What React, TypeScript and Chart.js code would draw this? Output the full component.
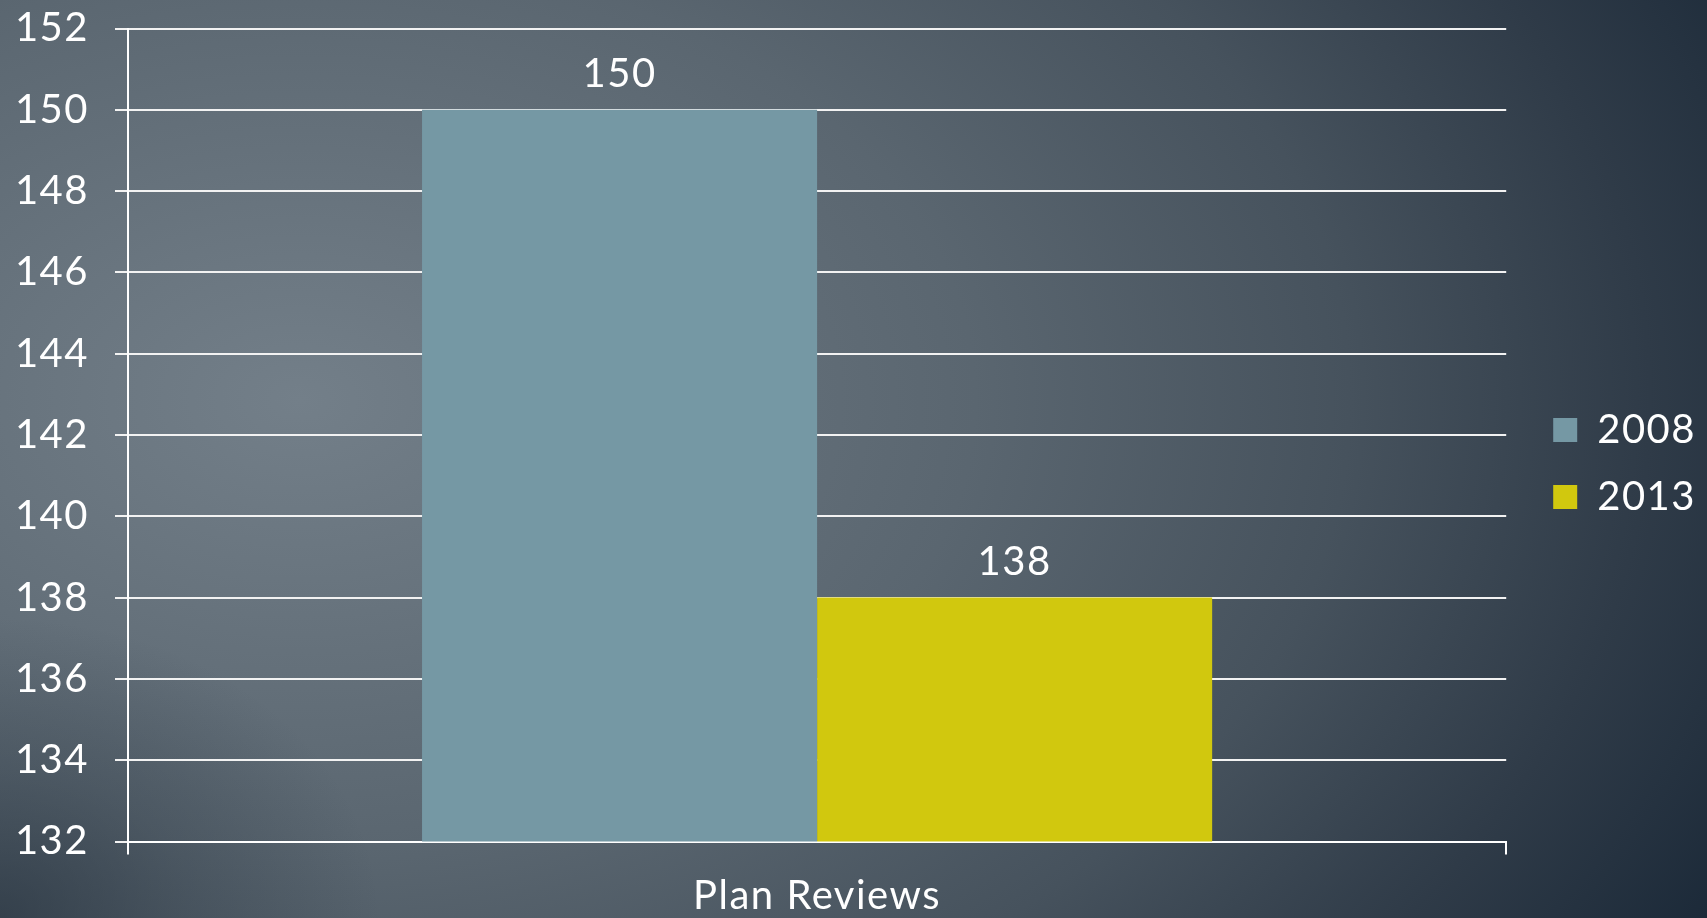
import React, { useEffect, useRef } from "react";
import { Chart, registerables } from "chart.js";

Chart.register(...registerables);

const categories = ["Plan Reviews"];
const seriesLabels = ["2008", "2013"];
const values2008 = [150];
const values2013 = [138];
const seriesColors = ["#7598a4", "#d1c80e"];
const yMin = 132;
const yMax = 152;
const yStep = 2;

const FONT = "Lato, 'Open Sans', sans-serif";
const SPACING = "1.5px";

const spacingPlugin = {
  id: "spacing",
  beforeUpdate(chart: any) {
    chart.ctx.letterSpacing = SPACING;
  },
  beforeDraw(chart: any) {
    chart.ctx.letterSpacing = SPACING;
  },
};

const valueLabels = {
  id: "valueLabels",
  afterDatasetsDraw(chart: any) {
    const ctx = chart.ctx;
    ctx.save();
    ctx.fillStyle = "#ffffff";
    ctx.font = `40px ${FONT}`;
    ctx.textAlign = "center";
    ctx.textBaseline = "alphabetic";
    chart.data.datasets.forEach((ds: any, i: number) => {
      const meta = chart.getDatasetMeta(i);
      meta.data.forEach((bar: any, j: number) => {
        ctx.fillText(String(ds.data[j]), bar.x, bar.y - 23);
      });
    });
    ctx.restore();
  },
};

const legendShift = {
  id: "legendShift",
  afterLayout(chart: any) {
    const l = chart.legend;
    if (l) {
      l.left += 20;
      l.right += 20;
    }
  },
};

export default function App() {
  const ref = useRef<HTMLCanvasElement | null>(null);
  useEffect(() => {
    document.body.style.margin = "0";
    const chart = new Chart(ref.current as HTMLCanvasElement, {
      type: "bar",
      data: {
        labels: categories,
        datasets: [
          { label: seriesLabels[0], data: values2008, backgroundColor: seriesColors[0], borderWidth: 0 },
          { label: seriesLabels[1], data: values2013, backgroundColor: seriesColors[1], borderWidth: 0 },
        ],
      },
      options: {
        animation: false,
        responsive: false,
        layout: { padding: { top: 9, right: 21, bottom: 0, left: 0 } },
        datasets: { bar: { categoryPercentage: 0.5733, barPercentage: 1 } },
        plugins: {
          tooltip: { enabled: false },
          legend: {
            position: "right",
            labels: {
              color: "#ffffff",
              font: { family: FONT, size: 40 },
              boxWidth: 24,
              boxHeight: 24,
              padding: 27,
            },
          },
        },
        scales: {
          x: {
            grid: { drawOnChartArea: false, color: "#ffffff", lineWidth: 2, tickLength: 13 },
            border: { color: "#ffffff", width: 2 },
            ticks: { color: "#ffffff", font: { family: FONT, size: 40 }, padding: 18 },
            afterFit: (s: any) => {
              s.height = 76.5;
            },
          },
          y: {
            min: yMin,
            max: yMax,
            grid: { color: "#f2f2f2", lineWidth: 2, tickLength: 13 },
            border: { color: "#ffffff", width: 2 },
            ticks: {
              stepSize: yStep,
              color: "#ffffff",
              font: { family: FONT, size: 40 },
              padding: 26,
            },
            afterFit: (s: any) => {
              s.width = 128;
              s.paddingTop = 28.5;
              s.paddingBottom = 0;
            },
          },
        },
      },
      plugins: [spacingPlugin, valueLabels, legendShift],
    });
    return () => chart.destroy();
  }, []);

  return (
    <div
      style={{
        position: "fixed",
        left: 0,
        top: 0,
        width: 1707,
        height: 918,
        background:
          "radial-gradient(380px 300px at 0px 918px, rgba(40,52,64,0.7) 0%, rgba(40,52,64,0.3) 50%, rgba(40,52,64,0) 100%), " +
          "radial-gradient(1500px 1000px at 300px 400px, #737f89 0%, #5a6670 45%, #46525d 70%, #2f3b48 90%, #1c2a39 107%)",
      }}
    >
      <canvas ref={ref} width={1707} height={918} style={{ display: "block" }} />
    </div>
  );
}
